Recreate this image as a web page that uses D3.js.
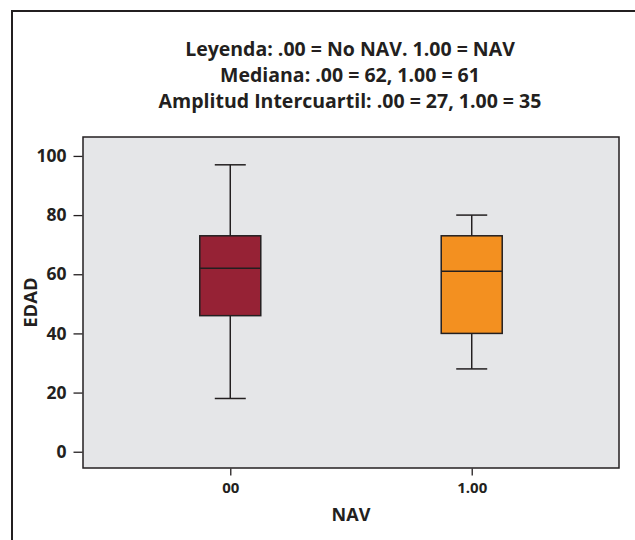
<!DOCTYPE html>
<html>
<head>
<meta charset="utf-8">
<script src="https://cdnjs.cloudflare.com/ajax/libs/d3/7.8.5/d3.min.js"></script>
<style>
    body { margin: 0; background: #fff; }
    svg text { font-family: "Open Sans", sans-serif; font-weight: 700; fill: #231f20; }
</style>
</head>
<body>
<div id="chart"></div>
<script>
// data
var groups = ['00', '1.00'];
var whiskerLow = [18, 28];
var q1 = [46, 40];
var median = [62, 61];
var q3 = [73, 73];
var whiskerHigh = [97, 80];
var boxColors = ['#962235', '#f39020'];
var yTicks = [0, 20, 40, 60, 80, 100];
var titleLines = [
    'Leyenda: .00 = No NAV. 1.00 = NAV',
    'Mediana: .00 = 62, 1.00 = 61',
    'Amplitud Intercuartil: .00 = 27, 1.00 = 35'
];

var W = 635, H = 540;
var plot = {left: 83, right: 619, top: 137, bottom: 468};
var ink = '#231f20';

var svg = d3.select('#chart').append('svg')
    .attr('width', W)
    .attr('height', H);

// outer frame (runs off the right and bottom edges)
svg.append('rect')
    .attr('x', 12).attr('y', 11)
    .attr('width', W + 20).attr('height', H + 20)
    .attr('fill', 'none')
    .attr('stroke', ink)
    .attr('stroke-width', 2);

// titles
svg.selectAll('.title').data(titleLines).enter()
    .append('text')
    .attr('class', 'title')
    .attr('x', 350)
    .attr('y', function(d, i){ return 56 + i * 26; })
    .attr('text-anchor', 'middle')
    .style('font-size', '19.5px')
    .text(function(d){ return d; });

var y = d3.scaleLinear().domain([-5.5, 106.4]).range([plot.bottom, plot.top]);
var x = d3.scalePoint().domain(groups).range([plot.left, plot.right]).padding(0.61);

svg.append('rect')
    .attr('x', plot.left).attr('y', plot.top)
    .attr('width', plot.right - plot.left)
    .attr('height', plot.bottom - plot.top)
    .attr('fill', '#e5e6e8')
    .attr('stroke', ink)
    .attr('stroke-width', 1.5);

var yAxis = d3.axisLeft(y).tickValues(yTicks).tickSize(9).tickPadding(7);
var gy = svg.append('g')
    .attr('transform', 'translate(' + (plot.left - 0.5) + ',0)')
    .call(yAxis);
gy.select('.domain').remove();
gy.selectAll('text').style('font-size', '17.5px').attr('font-family', null);
gy.selectAll('line').attr('stroke', ink).attr('stroke-width', 1.3);

var xAxis = d3.axisBottom(x).tickSize(7).tickPadding(7);
var gx = svg.append('g')
    .attr('transform', 'translate(0,' + (plot.bottom + 0.5) + ')')
    .call(xAxis);
gx.select('.domain').remove();
gx.selectAll('text').style('font-size', '15px').attr('font-family', null);
gx.selectAll('line').attr('stroke', ink).attr('stroke-width', 1.3);

svg.append('text')
    .attr('transform', 'translate(37,' + ((plot.top + plot.bottom) / 2) + ') rotate(-90)')
    .attr('text-anchor', 'middle')
    .style('font-size', '18.5px')
    .text('EDAD');

svg.append('text')
    .attr('x', (plot.left + plot.right) / 2)
    .attr('y', 521)
    .attr('text-anchor', 'middle')
    .style('font-size', '18px')
    .text('NAV');

// boxes
var boxW = 61, capW = 31;
var box = svg.selectAll('.box').data(groups).enter()
    .append('g')
    .attr('class', 'box')
    .attr('transform', function(d){ return 'translate(' + x(d) + ',0)'; });

box.append('line')
    .attr('y1', function(d, i){ return y(whiskerLow[i]); })
    .attr('y2', function(d, i){ return y(whiskerHigh[i]); })
    .attr('stroke', ink).attr('stroke-width', 1.5);

box.selectAll('.cap')
    .data(function(d, i){ return [whiskerLow[i], whiskerHigh[i]]; })
    .enter().append('line')
    .attr('x1', -capW / 2).attr('x2', capW / 2)
    .attr('y1', function(v){ return y(v); })
    .attr('y2', function(v){ return y(v); })
    .attr('stroke', ink).attr('stroke-width', 1.5);

box.append('rect')
    .attr('x', -boxW / 2)
    .attr('width', boxW)
    .attr('y', function(d, i){ return y(q3[i]); })
    .attr('height', function(d, i){ return y(q1[i]) - y(q3[i]); })
    .attr('fill', function(d, i){ return boxColors[i]; })
    .attr('stroke', ink).attr('stroke-width', 1.5);

box.append('line')
    .attr('x1', -boxW / 2).attr('x2', boxW / 2)
    .attr('y1', function(d, i){ return y(median[i]); })
    .attr('y2', function(d, i){ return y(median[i]); })
    .attr('stroke', ink).attr('stroke-width', 1.5);
</script>
</body>
</html>
